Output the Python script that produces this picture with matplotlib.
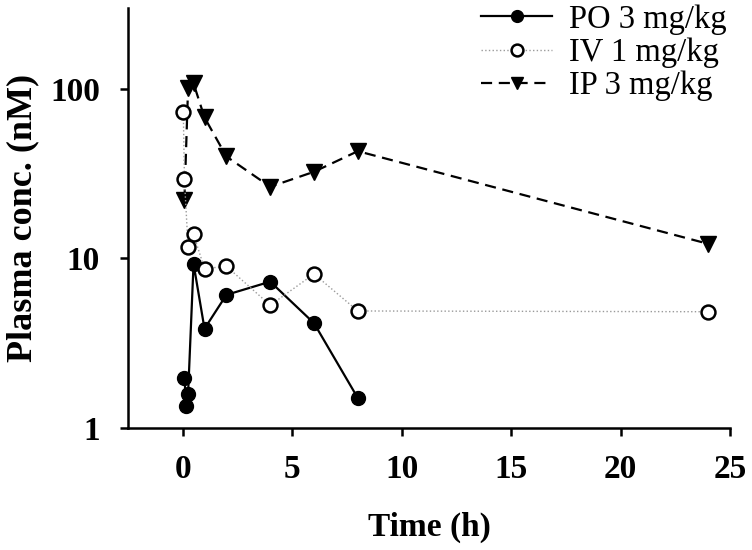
import matplotlib
matplotlib.use('Agg')
import matplotlib.pyplot as plt
from matplotlib.ticker import FixedLocator, FixedFormatter, NullLocator

# plasma concentration (nM) vs time (h)
po_time = [0.083, 0.167, 0.25, 0.5, 1, 2, 4, 6, 8]
po_conc = [1.98, 1.35, 1.58, 9.3, 3.85, 6.1, 7.3, 4.15, 1.5]

iv_time = [0.033, 0.083, 0.25, 0.5, 1, 2, 4, 6, 8, 24]
iv_conc = [73.5, 29.5, 11.7, 13.9, 8.7, 9.0, 5.3, 8.1, 4.9, 4.85]

ip_time = [0.083, 0.25, 0.5, 1, 2, 4, 6, 8, 24]
ip_conc = [22, 102, 108, 68, 40, 26.5, 32.5, 43, 12.2]

x_ticks = [0, 5, 10, 15, 20, 25]
y_ticks = [1, 10, 100]
y_tick_labels = ['1', '10', '100']

plt.rcParams['font.family'] = ['Liberation Serif', 'DejaVu Serif']

fig = plt.figure(figsize=(7.52, 5.5), dpi=100)
ax = fig.add_axes([0.170, 0.222, 0.801, 0.763])

ax.plot(po_time, po_conc, color='black', lw=1.6, ls='-', marker='o',
        ms=10, mfc='black', mec='black', label='PO 3 mg/kg', zorder=3)
ax.plot(iv_time, iv_conc, color='#9a9a9a', lw=1.0, ls=':', marker='o',
        ms=10, mfc='white', mec='black', mew=1.8, label='IV 1 mg/kg', zorder=4)
ax.plot(ip_time, ip_conc, color='black', lw=1.6, ls=(0, (5, 3)), marker='v',
        ms=11, mfc='black', mec='black', label='IP 3 mg/kg', zorder=2)

ax.set_yscale('log')
ax.set_xlim(-2.5, 25)
ax.set_ylim(1, 300)

ax.xaxis.set_major_locator(FixedLocator(x_ticks))
ax.yaxis.set_major_locator(FixedLocator(y_ticks))
ax.yaxis.set_major_formatter(FixedFormatter(y_tick_labels))
ax.yaxis.set_minor_locator(NullLocator())

for s in ['top', 'right']:
    ax.spines[s].set_visible(False)
for s in ['left', 'bottom']:
    ax.spines[s].set_linewidth(1.8)

ax.tick_params(axis='both', which='major', direction='out', length=6,
               width=1.8, labelsize=24)
ax.tick_params(axis='x', pad=13)
ax.tick_params(axis='y', pad=14)
for lbl in ax.get_xticklabels() + ax.get_yticklabels():
    lbl.set_fontweight('bold')

ax.set_xlabel('Time (h)', fontsize=24, fontweight='bold', labelpad=19)
ax.set_ylabel('Plasma conc. (nM)', fontsize=26, fontweight='bold', labelpad=8)

leg = ax.legend(loc='upper right', bbox_to_anchor=(0.966, 0.992),
                bbox_transform=fig.transFigure, frameon=False,
                borderpad=0, borderaxespad=0,
                fontsize=23.5, markerscale=0.85, handlelength=2.2,
                handletextpad=0.5, labelspacing=0.08)

fig.savefig('out.png', dpi=100)
